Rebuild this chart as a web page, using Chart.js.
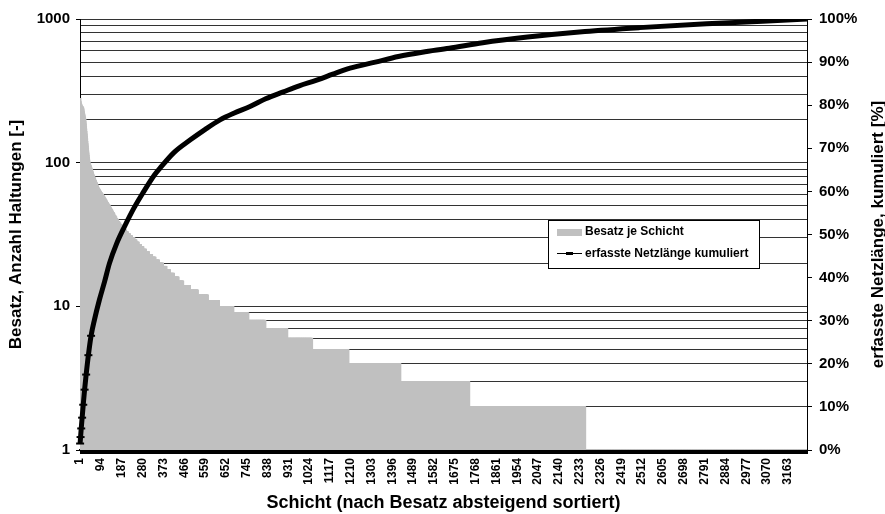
<!DOCTYPE html>
<html>
<head>
<meta charset="utf-8">
<script src="https://cdn.jsdelivr.net/npm/chart.js@4.4.1/dist/chart.umd.min.js"></script>
<style>
    body { margin: 0; background: #fff; }
</style>
</head>
<body>
<canvas id="besatzChart" width="885" height="514"></canvas>
<script>
// Besatz der ersten Schichten (je eine Schicht)
const besatzKopf = [280, 268, 262, 258, 255, 252, 250, 248, 247, 246, 245, 244, 243, 239, 234, 229, 225, 220, 216, 212, 208,
    204, 200, 193, 186, 179, 172, 165, 159, 153, 147, 141, 136, 131, 126, 121, 117, 113, 109, 106, 103, 100];

// restliche Schichten: Besatzwert und Anzahl Schichten mit diesem Wert
const besatzWerte = [99, 98, 97, 96, 95, 94, 93, 92, 91, 90, 89, 88, 87, 86, 85, 84, 83, 82, 81, 80, 79, 78, 77, 76, 75, 74,
    73, 72, 71, 70, 69, 68, 67, 66, 65, 64, 63, 62, 61, 60, 59, 58, 57, 56, 55, 54, 53, 52, 51, 50, 49, 48, 47, 46, 45, 44,
    43, 42, 41, 40, 39, 38, 37, 36, 35, 34, 33, 32, 31, 30, 29, 28, 27, 26, 25, 24, 23, 22, 21, 20, 19, 18, 17, 16, 15, 14,
    13, 12, 11, 10, 9, 8, 7, 6, 5, 4, 3, 2, 1];
const besatzAnzahl = [1, 1, 1, 1, 1, 1, 1, 1, 1, 1, 1, 1, 1, 1, 1, 1, 1, 1, 2, 1, 1, 2, 1, 1, 2, 1,
    2, 1, 2, 1, 2, 1, 2, 3, 3, 2, 3, 3, 3, 3, 3, 3, 3, 3, 3, 3, 3, 3, 4, 3, 3, 3, 4, 3, 4, 3,
    4, 4, 4, 4, 5, 5, 6, 6, 7, 7, 8, 9, 9, 11, 9, 10, 10, 11, 12, 13, 14, 15, 16, 18, 15, 16, 18, 20, 21, 30,
    35, 45, 50, 64, 67, 76, 98, 111, 162, 232, 308, 518, 992];

const kumSchicht = [1, 3, 6, 10, 15, 21, 28, 38, 50, 65, 87, 110, 132, 165, 199, 240, 281, 333, 358, 420, 492, 560, 626,
    690, 760, 830, 909, 980, 1058, 1130, 1207, 1320, 1423, 1530, 1650, 1800, 2000, 2256, 2500, 2800, 3050, 3248];
const kumProzent = [1.5, 3, 5, 7.5, 10.5, 14, 17.5, 22, 26.5, 30.2, 34.8, 39, 43.3, 48, 51.8, 56, 59.6, 63.8, 65.4, 69,
    71.9, 74.4, 76.6, 78.2, 79.7, 81.5, 83.1, 84.5, 85.8, 87.2, 88.6, 90, 91.3, 92.3, 93.2, 94.5, 95.8, 97.1, 98, 98.9,
    99.5, 100];

// Teilung der linken Achse (Gitterlinien) und beschriftete Werte
const linksGitter = [1, 2, 3, 4, 5, 6, 7, 8, 9, 10, 20, 30, 40, 50, 60, 70, 80, 90,
    100, 200, 300, 400, 500, 600, 700, 800, 900, 1000];
const linksTicks = [1, 10, 100, 1000];
const xTickAbstand = 93;

// Balkendaten aus den Lauflaengen aufbauen
const besatz = besatzKopf.slice();
besatzWerte.forEach((w, i) => {
    for (let k = 0; k < besatzAnzahl[i]; k++) besatz.push(w);
});
const schichten = besatz.map((_, i) => i + 1);

const FONT = "'Liberation Sans', Arial, sans-serif";
Chart.defaults.font.family = FONT;
Chart.defaults.font.weight = "bold";
Chart.defaults.color = "#000";

// Legende und rechter Achsentitel werden selbst gezeichnet
const extras = {
    id: "extras",
    afterDraw(chart) {
        const ctx = chart.ctx;
        const area = chart.chartArea;
        ctx.save();
        ctx.font = "bold 17px " + FONT;
        ctx.fillStyle = "#000";
        ctx.textAlign = "center";
        ctx.textBaseline = "middle";
        ctx.translate(878, (area.top + area.bottom) / 2);
        ctx.rotate(-Math.PI / 2);
        ctx.fillText("erfasste Netzlänge, kumuliert [%]", 0, 0);
        ctx.restore();

        ctx.save();
        ctx.fillStyle = "#fff";
        ctx.fillRect(548, 220, 211, 48);
        ctx.strokeStyle = "#000";
        ctx.lineWidth = 1;
        ctx.strokeRect(548.5, 220.5, 211, 48);
        ctx.fillStyle = "#C0C0C0";
        ctx.fillRect(557, 229, 25, 7);
        ctx.beginPath();
        ctx.moveTo(557, 253.5);
        ctx.lineTo(582, 253.5);
        ctx.strokeStyle = "#000";
        ctx.lineWidth = 1;
        ctx.stroke();
        ctx.fillStyle = "#000";
        ctx.fillRect(566, 252, 7, 3);
        ctx.font = "bold 12px " + FONT;
        ctx.textAlign = "left";
        ctx.textBaseline = "middle";
        ctx.fillText(chart.data.datasets[1].label, 585, 232);
        ctx.fillText(chart.data.datasets[0].label, 585, 254);
        ctx.restore();
    },
};

const ctx = document.getElementById("besatzChart").getContext("2d");
new Chart(ctx, {
    type: "bar",
    data: {
        labels: schichten,
        datasets: [
            {
                type: "line",
                label: "erfasste Netzlänge kumuliert",
                data: kumSchicht.map((s, i) => ({ x: s, y: kumProzent[i] })),
                yAxisID: "y2",
                borderColor: "#000",
                borderWidth: 5,
                cubicInterpolationMode: "monotone",
                pointStyle: "line",
                pointRadius: (c) => (c.dataIndex < 9 ? 4 : 0), // Marker nur im steilen Anfang sichtbar
                pointBorderWidth: 2,
                pointBorderColor: "#000",
                order: 1,
            },
            {
                label: "Besatz je Schicht",
                data: besatz,
                yAxisID: "y",
                backgroundColor: "#C0C0C0",
                borderWidth: 0,
                barThickness: 2,
                order: 2,
            },
        ],
    },
    options: {
        responsive: false,
        animation: false,
        layout: { padding: { top: 19, left: 0, right: 0, bottom: 0 } },
        plugins: {
            legend: { display: false },
            tooltip: { enabled: false },
        },
        scales: {
            x: {
                ticks: {
                    autoSkip: false,
                    minRotation: 90,
                    maxRotation: 90,
                    padding: 4,
                    font: { size: 12 },
                    callback: (val, idx) => (idx % xTickAbstand === 0 ? String(idx + 1) : ""),
                },
                grid: {
                    drawOnChartArea: false,
                    drawTicks: true,
                    tickLength: 4,
                    tickColor: "#000",
                },
                border: { color: "#000", width: 2 },
                title: {
                    display: true,
                    text: "Schicht (nach Besatz absteigend sortiert)",
                    font: { size: 18 },
                    padding: { top: 0, bottom: 0 },
                },
                afterFit: (s) => { s.height = 64; },
            },
            y: {
                type: "logarithmic",
                position: "left",
                min: 1,
                max: 1000,
                afterBuildTicks: (s) => { s.ticks = linksGitter.map((v) => ({ value: v })); },
                ticks: {
                    autoSkip: false,
                    padding: 6,
                    font: { size: 15 },
                    callback: (v) => (linksTicks.includes(v) ? String(v) : ""),
                },
                grid: {
                    color: "#333",
                    lineWidth: 1,
                    tickLength: 4,
                    tickColor: (c) => (c.tick && linksTicks.includes(c.tick.value) ? "#000" : "rgba(0,0,0,0)"),
                },
                border: { color: "#000", width: 1 },
                title: {
                    display: true,
                    text: "Besatz, Anzahl Haltungen [-]",
                    font: { size: 17 },
                    padding: { top: 6, bottom: 4 },
                },
                afterFit: (s) => { s.width = 80; },
            },
            y2: {
                position: "right",
                min: 0,
                max: 100,
                ticks: {
                    stepSize: 10,
                    padding: 7,
                    font: { size: 15 },
                    callback: (v) => v + "%",
                },
                grid: {
                    drawOnChartArea: false,
                    tickLength: 5,
                    tickColor: "#000",
                },
                border: { color: "#000", width: 1 },
                afterFit: (s) => { s.width = 78; },
            },
        },
    },
    plugins: [extras],
});
</script>
</body>
</html>
